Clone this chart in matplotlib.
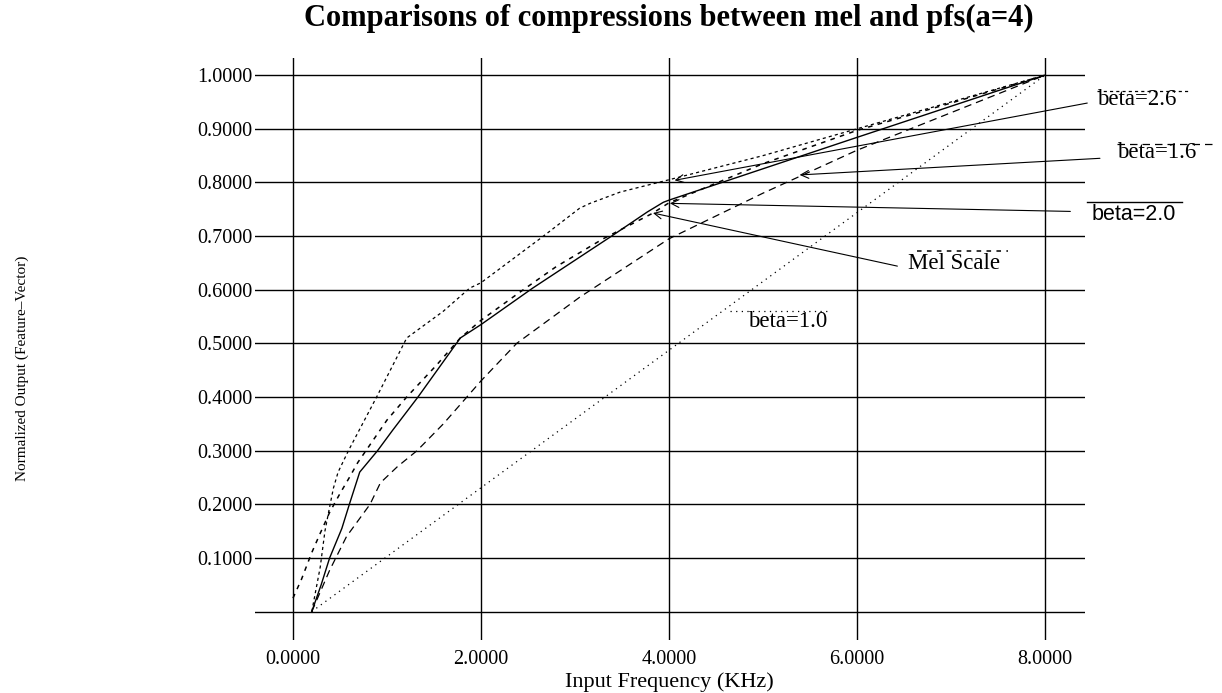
import matplotlib
matplotlib.use('Agg')
import matplotlib.pyplot as plt
import numpy as np

SERIF = 'Liberation Serif'
SANS = 'Liberation Sans'

# (x in kHz, y normalised output)
beta10_x = [0.2, 8.0]
beta10_y = [0.0, 1.0]

beta16_x = [0.2, 0.39, 0.57, 0.82, 0.93, 1.11, 1.32, 1.6, 2.0, 2.38, 3.05, 4.0, 5.0, 6.0, 7.0, 8.0]
beta16_y = [0.0, 0.077, 0.14, 0.20, 0.24, 0.27, 0.30, 0.35, 0.43, 0.50, 0.586, 0.695, 0.78, 0.86, 0.93, 1.0]

beta20_x = [0.2, 0.3, 0.39, 0.52, 0.60, 0.71, 0.90, 1.06, 1.33, 1.78, 2.0, 2.55, 3.39, 3.77, 3.94, 4.0, 6.0, 8.0]
beta20_y = [0.0, 0.05, 0.10, 0.155, 0.20, 0.26, 0.30, 0.338, 0.40, 0.51, 0.535, 0.603, 0.70, 0.745, 0.763, 0.767, 0.884, 1.0]

beta26_x = [0.2, 0.29, 0.34, 0.39, 0.43, 0.48, 0.59, 0.89, 1.21, 1.6, 1.88, 2.0, 2.65, 3.05, 3.16, 3.48, 4.0, 5.0, 6.0, 7.0, 8.0]
beta26_y = [0.0, 0.083, 0.15, 0.195, 0.23, 0.26, 0.30, 0.40, 0.51, 0.56, 0.603, 0.613, 0.698, 0.752, 0.761, 0.782, 0.805, 0.85, 0.90, 0.95, 1.0]

mel_x = [0.0, 0.09, 0.20, 0.29, 0.39, 0.50, 0.60, 0.69, 0.80, 1.0, 1.21, 1.53, 1.78, 2.0, 2.41, 2.8, 3.3, 3.82, 4.0, 5.0, 6.0, 7.0, 8.0]
mel_y = [0.025, 0.06, 0.11, 0.146, 0.185, 0.22, 0.25, 0.278, 0.306, 0.357, 0.40, 0.46, 0.51, 0.543, 0.595, 0.643, 0.695, 0.742, 0.762, 0.835, 0.897, 0.948, 1.0]

x_ticks = [0, 2, 4, 6, 8]
x_tick_labels = ['0.0000', '2.0000', '4.0000', '6.0000', '8.0000']
y_ticks = [0.0, 0.1, 0.2, 0.3, 0.4, 0.5, 0.6, 0.7, 0.8, 0.9, 1.0]
y_tick_labels = ['', '0.1000', '0.2000', '0.3000', '0.4000', '0.5000',
                 '0.6000', '0.7000', '0.8000', '0.9000', '1.0000']

STYLES = {
    'beta=1.0': dict(dashes=(1.0, 3.5), lw=0.9),
    'beta=1.6': dict(dashes=(6.0, 4.0), lw=0.9),
    'beta=2.0': dict(linestyle='-', lw=1.0),
    'beta=2.6': dict(dashes=(2.5, 2.5), lw=0.9),
    'Mel Scale': dict(dashes=(3.0, 3.5), lw=1.1),
}

# label text pos, sample line (x0, x1, y), arrow start, arrow tip
LABELS = [
    ('beta=2.6', (8.55, 0.955), (8.55, 9.54, 0.970), (8.45, 0.948), (4.06, 0.804), SERIF),
    ('beta=1.6', (8.77, 0.855), (8.77, 9.79, 0.871), (8.585, 0.845), (5.39, 0.814), SERIF),
    ('beta=2.0', (8.50, 0.741), (8.45, 9.46, 0.763), (8.27, 0.746), (4.01, 0.761), SANS),
    ('Mel Scale', (6.54, 0.649), (6.64, 7.61, 0.672), (6.43, 0.644), (3.83, 0.743), SERIF),
    ('beta=1.0', (4.84, 0.541), (4.65, 5.71, 0.560), None, None, SERIF),
]


def main():
    fig = plt.figure(figsize=(12.22, 6.93), dpi=100)
    ax = fig.add_axes([255 / 1222, 53 / 693, 830 / 1222, 582 / 693])
    ax.set_xlim(-0.404, 8.426)
    ax.set_ylim(-0.053, 1.032)
    for s in ax.spines.values():
        s.set_visible(False)

    ax.set_xticks(x_ticks)
    ax.set_xticklabels(x_tick_labels, family=SERIF, fontsize=14.5)
    ax.set_yticks(y_ticks)
    ax.set_yticklabels(y_tick_labels, family=SERIF, fontsize=14.5)
    ax.tick_params(axis='x', length=0, pad=7)
    ax.tick_params(axis='y', length=0, pad=2)
    ax.grid(True, color='black', lw=1.0)
    ax.set_axisbelow(True)

    series = [
        ('beta=1.0', beta10_x, beta10_y),
        ('beta=1.6', beta16_x, beta16_y),
        ('beta=2.0', beta20_x, beta20_y),
        ('beta=2.6', beta26_x, beta26_y),
        ('Mel Scale', mel_x, mel_y),
    ]
    for name, xs, ys in series:
        ax.plot(xs, ys, color='black', **STYLES[name])

    for name, txt_pos, sample, start, tip, fam in LABELS:
        fs = 15.5 if fam == SANS else 16.5
        ax.text(txt_pos[0], txt_pos[1], name, ha='left', va='center',
                family=fam, fontsize=fs, clip_on=False)
        ax.plot([sample[0], sample[1]], [sample[2], sample[2]], color='black',
                clip_on=False, **STYLES[name])
        if start is not None:
            ax.annotate('', xy=tip, xytext=start, annotation_clip=False,
                        arrowprops=dict(arrowstyle='->', lw=0.8, color='black',
                                        shrinkA=0, shrinkB=0, mutation_scale=14))

    fig.text(669 / 1222, 1 - 18 / 693, 'Comparisons of compressions between mel and pfs(a=4)',
             ha='center', va='center', family=SERIF, fontsize=22, fontweight='bold')
    fig.text(669 / 1222, 1 - 682 / 693, 'Input Frequency (KHz)',
             ha='center', va='center', family=SERIF, fontsize=16)
    fig.text(22 / 1222, 1 - 368 / 693, 'Normalized Output (Feature\u2013Vector)',
             ha='center', va='center', rotation=90, family=SERIF, fontsize=11)

    fig.savefig('out.png', dpi=100, facecolor='white')


if __name__ == '__main__':
    main()
